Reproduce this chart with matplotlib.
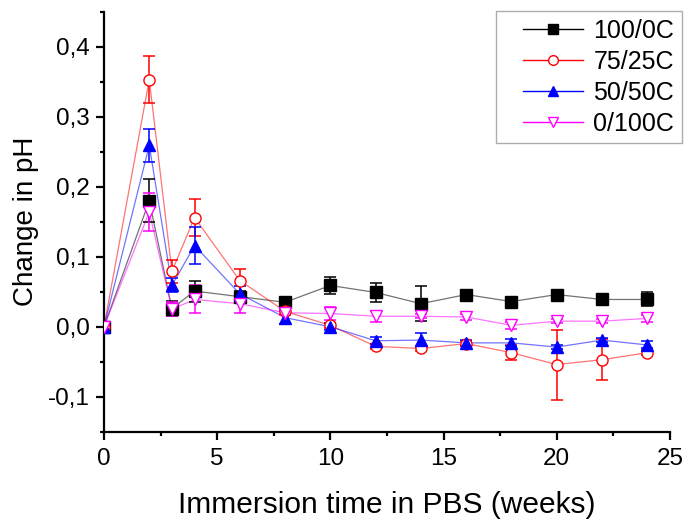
import numpy as np
import matplotlib
matplotlib.use('Agg')
import matplotlib.pyplot as plt
from matplotlib.lines import Line2D
from matplotlib.legend_handler import HandlerLine2D
from matplotlib.ticker import MultipleLocator, FuncFormatter

plt.rcParams['font.family'] = ['Liberation Sans', 'DejaVu Sans']

# Data
weeks = [0, 2, 3, 4, 6, 8, 10, 12, 14, 16, 18, 20, 22, 24]

ph_100_0 = [0, 0.180, 0.026, 0.051, 0.043, 0.035, 0.059, 0.049, 0.033, 0.046, 0.036, 0.046, 0.039, 0.039]
err_100_0 = [0, 0.031, 0.011, 0.015, 0.008, 0.003, 0.012, 0.013, 0.025, 0.003, 0.003, 0.003, 0.003, 0.010]

ph_75_25 = [0, 0.353, 0.079, 0.156, 0.066, 0.022, 0.002, -0.028, -0.031, -0.024, -0.037, -0.054, -0.047, -0.037]
err_75_25 = [0, 0.033, 0.016, 0.027, 0.017, 0.004, 0.004, 0.004, 0.003, 0.003, 0.011, 0.050, 0.029, 0.004]

ph_50_50 = [0, 0.259, 0.059, 0.116, 0.047, 0.013, 0.000, -0.020, -0.019, -0.023, -0.023, -0.029, -0.019, -0.026]
err_50_50 = [0, 0.024, 0.010, 0.026, 0.011, 0.009, 0.005, 0.005, 0.010, 0.004, 0.005, 0.003, 0.003, 0.005]

ph_0_100 = [0, 0.164, 0.025, 0.039, 0.033, 0.020, 0.019, 0.015, 0.015, 0.014, 0.002, 0.008, 0.008, 0.012]
err_0_100 = [0, 0.027, 0.010, 0.020, 0.013, 0.003, 0.009, 0.008, 0.003, 0.004, 0.005, 0.003, 0.003, 0.005]

labels = ['100/0C', '75/25C', '50/50C', '0/100C']
series = [ph_100_0, ph_75_25, ph_50_50, ph_0_100]
errors = [err_100_0, err_75_25, err_50_50, err_0_100]
colors = ['black', 'red', 'blue', 'magenta']
markers = ['s', 'o', '^', 'v']
filled = [True, False, True, False]
sizes = [8, 8, 8.5, 8.5]


class ShiftedLine(HandlerLine2D):
    # leaves some empty room left of the legend line, like the original legend
    def create_artists(self, legend, orig_handle, xdescent, ydescent, width, height, fontsize, trans):
        shift = 0.8 * fontsize
        return super().create_artists(legend, orig_handle, xdescent - shift, ydescent,
                                      width - shift, height, fontsize, trans)


fig = plt.figure(figsize=(6.86, 5.19), dpi=100)
ax = fig.add_axes([0.1516, 0.168, 0.825, 0.8095])

handles = []
for y, e, c, m, f, s, lab in zip(series, errors, colors, markers, filled, sizes, labels):
    face = c if f else 'white'
    ax.plot(weeks, y, '-', color=c, lw=0.9, alpha=0.55, zorder=2)
    ax.errorbar(weeks, y, yerr=e, fmt=m, color=c, mfc=face, mec=c, ms=s,
                ecolor=c, elinewidth=1.1, capsize=4, capthick=1.1, zorder=3)
    handles.append(Line2D([0], [0], color=c, lw=1, marker=m, mfc=face, mec=c, ms=7, label=lab))

ax.set_xlim(0, 25)
ax.set_ylim(-0.15, 0.45)
ax.xaxis.set_major_locator(MultipleLocator(5))
ax.xaxis.set_minor_locator(MultipleLocator(2.5))
ax.yaxis.set_minor_locator(MultipleLocator(0.05))
ax.set_yticks([-0.1, 0.0, 0.1, 0.2, 0.3, 0.4])
ax.yaxis.set_major_formatter(FuncFormatter(lambda v, p: ('%.1f' % v).replace('.', ',').replace('-0,0', '0,0')))

for side in ['top', 'right']:
    ax.spines[side].set_visible(False)
for side in ['left', 'bottom']:
    ax.spines[side].set_linewidth(1.6)

ax.tick_params(which='major', direction='out', length=5.5, width=1.6, labelsize=17.5)
ax.tick_params(axis='x', which='major', pad=6.5)
ax.tick_params(axis='y', which='major', pad=4.5)
ax.tick_params(which='minor', direction='out', length=3, width=1.6)

ax.set_xlabel('Immersion time in PBS (weeks)', fontsize=21.5, labelpad=14.5)
ax.set_ylabel('Change in pH', fontsize=20, labelpad=7)

leg = ax.legend(handles=handles, loc='upper right', bbox_to_anchor=(1.021, 1.0014), borderaxespad=0,
                fontsize=18, handlelength=3.2, handletextpad=0.4, frameon=True, fancybox=False,
                edgecolor='#999999', borderpad=0.3, labelspacing=0.28,
                handler_map={Line2D: ShiftedLine()})
leg.get_frame().set_linewidth(1.0)

fig.savefig('out.png', dpi=100)
